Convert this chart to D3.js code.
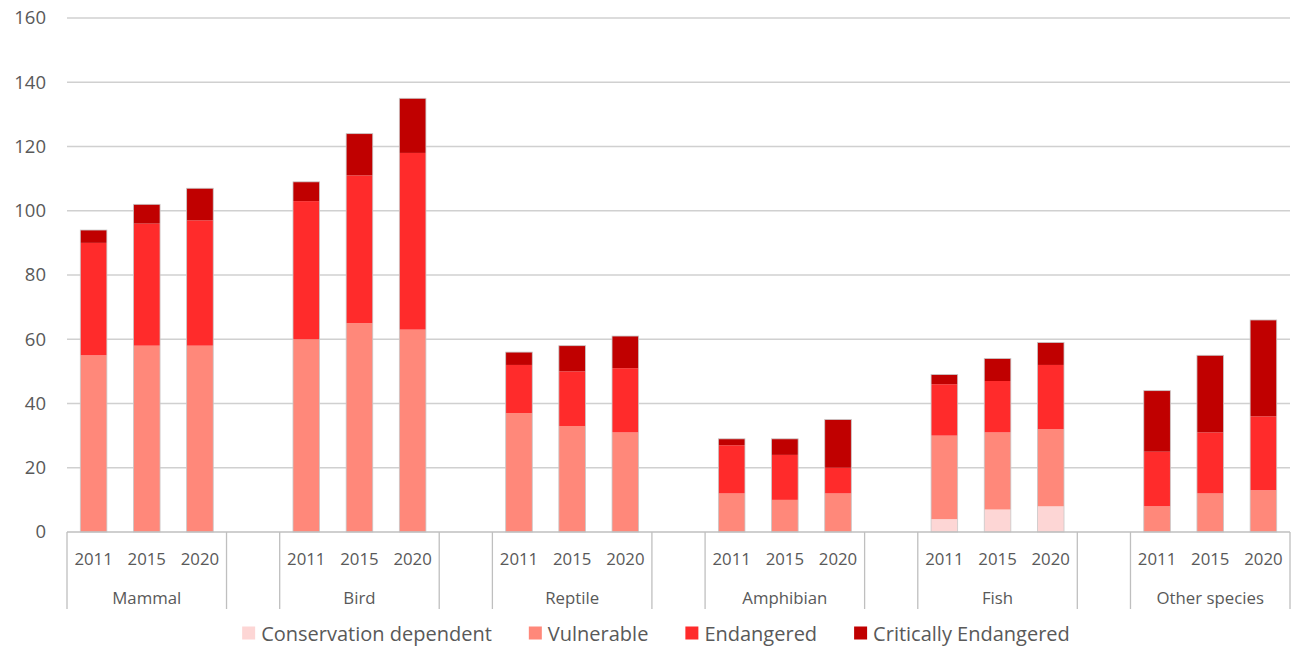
<!DOCTYPE html>
<html>
<head>
<meta charset="utf-8">
<script src="https://cdn.jsdelivr.net/npm/d3@7"></script>
<style>
  html, body { margin: 0; padding: 0; background: #fff; }
  svg { display: block; font-family: "Open Sans", sans-serif; }
</style>
</head>
<body>
<svg id="chart" width="1304" height="650"></svg>
<script>
// ---- Data ----
const groups = ["Mammal", "Bird", "Reptile", "Amphibian", "Fish", "Other species"];
const years = ["2011", "2015", "2020"];
const seriesNames = ["Conservation dependent", "Vulnerable", "Endangered", "Critically Endangered"];
const seriesColors = ["#FDD6D5", "#FF887A", "#FF2B2B", "#C00000"];
// values in order: group by group, year by year
const conservationDependent = [0, 0, 0,   0, 0, 0,    0, 0, 0,    0, 0, 0,    4, 7, 8,    0, 0, 0];
const vulnerable            = [55, 58, 58, 60, 65, 63, 37, 33, 31, 12, 10, 12, 26, 24, 24, 8, 12, 13];
const endangered            = [35, 38, 39, 43, 46, 55, 15, 17, 20, 15, 14, 8,  16, 16, 20, 17, 19, 23];
const criticallyEndangered  = [4, 6, 10,  6, 13, 17,  4, 8, 10,   2, 5, 15,   3, 7, 7,    19, 24, 30];
const yTicks = [0, 20, 40, 60, 80, 100, 120, 140, 160];

// ---- Build table ----
const seriesValues = [conservationDependent, vulnerable, endangered, criticallyEndangered];
const slots = [];   // category slots including blank separators
const rows = [];
groups.forEach((g, gi) => {
  years.forEach((yr, yi) => {
    const key = g + "|" + yr;
    slots.push(key);
    const idx = gi * years.length + yi;
    const row = { key, group: g, year: yr };
    seriesNames.forEach((s, si) => row[s] = seriesValues[si][idx]);
    rows.push(row);
  });
  if (gi < groups.length - 1) slots.push("blank" + gi);
});

// ---- Layout ----
const svg = d3.select("#chart");
const pLeft = 67, pRight = 1290, pTop = 18, pBottom = 532;
const textColor = "#595959";

const x = d3.scaleBand().domain(slots).range([pLeft, pRight]).paddingInner(0.5).paddingOuter(0.25);
const y = d3.scaleLinear().domain([0, 160]).range([pBottom, pTop]);

// gridlines
svg.append("g").selectAll("line").data(yTicks.filter(d => d > 0)).join("line")
  .attr("x1", pLeft).attr("x2", pRight)
  .attr("y1", d => y(d)).attr("y2", d => y(d))
  .attr("stroke", "#d0d0d0").attr("stroke-width", 1.3);

// y axis labels
const yAxis = d3.axisLeft(y).tickValues(yTicks).tickSize(0).tickPadding(21);
const yg = svg.append("g").attr("transform", `translate(${pLeft},0)`).call(yAxis);
yg.select(".domain").remove();
yg.selectAll("text").attr("fill", textColor).style("font-size", "18.5px")
  .style("font-family", "'Open Sans', sans-serif");

// bars
const stack = d3.stack().keys(seriesNames);
const stacked = stack(rows);
svg.append("g").selectAll("g").data(stacked).join("g")
  .attr("fill", (d, i) => seriesColors[i])
  .selectAll("rect").data(d => d.filter(p => p[1] - p[0] > 0)).join("rect")
  .attr("x", d => x(d.data.key))
  .attr("width", x.bandwidth())
  .attr("y", d => y(d[1]))
  .attr("height", d => y(d[0]) - y(d[1]));

// subtle outline around each full bar
const topLayer = stacked[stacked.length - 1];
svg.append("g").selectAll("rect").data(topLayer).join("rect")
  .attr("x", d => x(d.data.key))
  .attr("width", x.bandwidth())
  .attr("y", d => y(d[1]))
  .attr("height", d => y(0) - y(d[1]))
  .attr("fill", "none").attr("stroke", "#c8c8c8").attr("stroke-width", 0.8);

// x axis baseline
const axisColor = "#bfbfbf";
svg.append("line").attr("x1", pLeft).attr("x2", pRight)
  .attr("y1", pBottom).attr("y2", pBottom)
  .attr("stroke", axisColor).attr("stroke-width", 1.3);

// separators: group boundaries
const step = x.step();
const sepBottom = 609;
const sepXs = [];
groups.forEach((g, gi) => {
  const firstKey = g + "|" + years[0];
  const lastKey = g + "|" + years[years.length - 1];
  const x0 = x(firstKey) - (step - x.bandwidth()) / 2;
  const x1 = x(lastKey) + x.bandwidth() + (step - x.bandwidth()) / 2;
  sepXs.push(x0, x1);
  svg.append("text").attr("x", (x0 + x1) / 2).attr("y", 597)
    .attr("text-anchor", "middle").attr("dominant-baseline", "central")
    .attr("fill", textColor).style("font-size", "16.8px").text(g);
});
svg.append("g").selectAll("line").data(sepXs).join("line")
  .attr("x1", d => d).attr("x2", d => d)
  .attr("y1", pBottom).attr("y2", sepBottom)
  .attr("stroke", axisColor).attr("stroke-width", 1.3);

// year labels
svg.append("g").selectAll("text").data(rows).join("text")
  .attr("x", d => x(d.key) + x.bandwidth() / 2).attr("y", 558)
  .attr("text-anchor", "middle").attr("dominant-baseline", "central")
  .attr("fill", textColor).style("font-size", "16.8px")
  .text(d => d.year);

// legend
const legend = svg.append("g");
const items = legend.selectAll("g").data(seriesNames).join("g");
items.append("rect").attr("width", 13).attr("height", 13).attr("y", -6.5)
  .attr("fill", (d, i) => seriesColors[i]);
items.append("text").attr("x", 19).attr("y", 0)
  .attr("dominant-baseline", "central")
  .attr("fill", textColor).style("font-size", "20px").text(d => d);
let cx = 0;
const offsets = [];
items.each(function (d) {
  const w = 19 + d3.select(this).select("text").node().getComputedTextLength();
  offsets.push(cx);
  cx += w + 37;
});
const totalW = cx - 37;
const startX = 656 - totalW / 2;
items.attr("transform", (d, i) => `translate(${startX + offsets[i]},633)`);
</script>
</body>
</html>
